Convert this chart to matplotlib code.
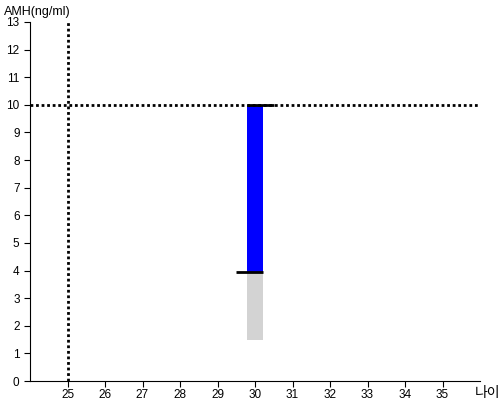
import matplotlib
matplotlib.use('Agg')
import matplotlib.pyplot as plt

plt.rcParams['font.family'] = ['Liberation Sans', 'Noto Sans CJK KR', 'DejaVu Sans']

ages = list(range(25, 36))
y_ticks = list(range(0, 14))
ref_age = 25
ref_amh = 10
bar_age = 30
amh_low = 1.5
amh_mid = 3.95
amh_high = 10

fig = plt.figure(figsize=(5, 4), dpi=100)
ax = fig.add_axes([0.06, 0.0475, 0.90, 0.8975])

ax.bar(bar_age, amh_mid - amh_low, bottom=amh_low, width=0.42, color='#d3d3d3')
ax.bar(bar_age, amh_high - amh_mid, bottom=amh_mid, width=0.42, color='#0000ff')
ax.hlines(amh_high, bar_age - 0.21, bar_age + 0.5, color='black', lw=2)
ax.hlines(amh_mid, bar_age - 0.52, bar_age + 0.21, color='black', lw=2)

ax.axvline(ref_age, color='black', ls=(0, (1, 1)), lw=2)
ax.axhline(ref_amh, color='black', ls=(0, (1, 1)), lw=2)

ax.set_xlim(24, 36)
ax.set_ylim(0, 13)
ax.set_xticks(ages)
ax.set_yticks(y_ticks)
ax.tick_params(labelsize=8.5, length=4)
ax.tick_params(axis='x', pad=1.5)
for s in ['top', 'right']:
    ax.spines[s].set_visible(False)

fig.text(0.008, 0.97, 'AMH(ng/ml)', fontsize=9, va='center', ha='left')
fig.text(0.95, 0.018, '나이', fontsize=10, va='center', ha='left',
         family=['Noto Sans CJK KR', 'DejaVu Sans'])

fig.savefig('out.png', dpi=100)
